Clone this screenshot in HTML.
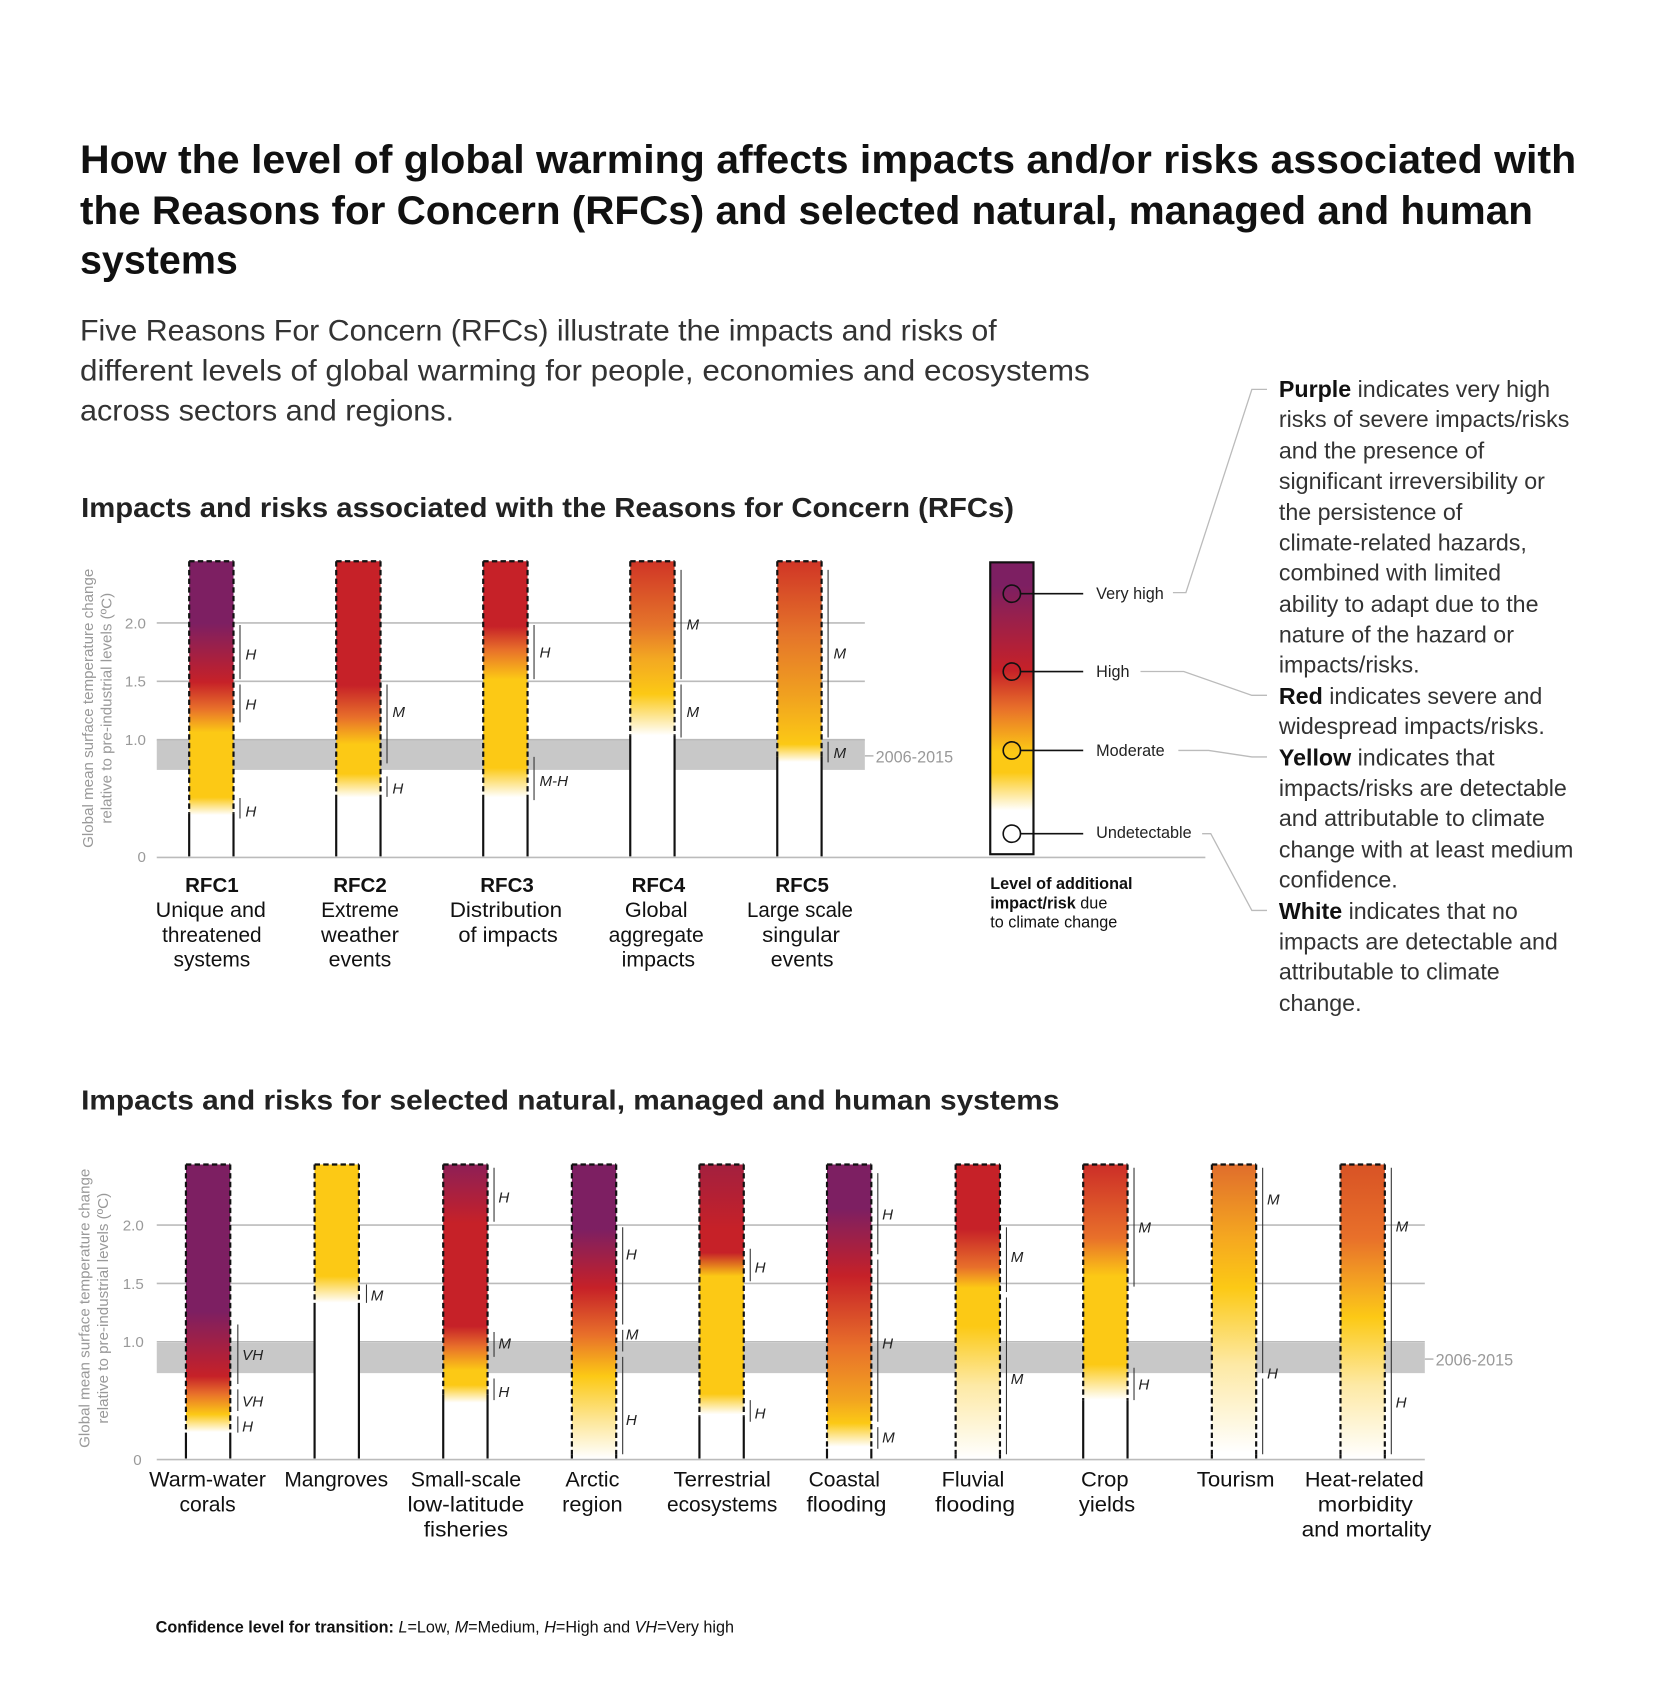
<!DOCTYPE html>
<html><head><meta charset="utf-8"><style>html,body{margin:0;padding:0;background:#fff}svg{display:block}text{font-family:"Liberation Sans",sans-serif}</style></head><body>
<svg width="1654" height="1689" viewBox="0 0 1530 1562" xmlns="http://www.w3.org/2000/svg">
<defs>
<linearGradient id="r1" x1="0" y1="0" x2="0" y2="1"><stop offset="0" stop-color="#7d1f62"/><stop offset=".21" stop-color="#7d1f62"/><stop offset=".41" stop-color="#c62128"/><stop offset=".5" stop-color="#e8702a"/><stop offset=".58" stop-color="#fcc915"/><stop offset=".8" stop-color="#fcc915"/><stop offset=".86" stop-color="#fff"/><stop offset="1" stop-color="#fff"/></linearGradient>
<linearGradient id="r2" x1="0" y1="0" x2="0" y2="1"><stop offset="0" stop-color="#c62128"/><stop offset=".42" stop-color="#c62128"/><stop offset=".53" stop-color="#e8702a"/><stop offset=".62" stop-color="#fcc915"/><stop offset=".72" stop-color="#fcc915"/><stop offset=".8" stop-color="#fff"/><stop offset="1" stop-color="#fff"/></linearGradient>
<linearGradient id="r3" x1="0" y1="0" x2="0" y2="1"><stop offset="0" stop-color="#c62128"/><stop offset=".22" stop-color="#c62128"/><stop offset=".3" stop-color="#e8702a"/><stop offset=".4" stop-color="#fcc915"/><stop offset=".7" stop-color="#fcc915"/><stop offset=".8" stop-color="#fff"/><stop offset="1" stop-color="#fff"/></linearGradient>
<linearGradient id="r4" x1="0" y1="0" x2="0" y2="1"><stop offset="0" stop-color="#d03526"/><stop offset=".22" stop-color="#e5752a"/><stop offset=".33" stop-color="#f3a822"/><stop offset=".45" stop-color="#fcc915"/><stop offset=".53" stop-color="#fde79a"/><stop offset=".59" stop-color="#fff"/><stop offset="1" stop-color="#fff"/></linearGradient>
<linearGradient id="r5" x1="0" y1="0" x2="0" y2="1"><stop offset="0" stop-color="#d03526"/><stop offset=".25" stop-color="#e5752a"/><stop offset=".45" stop-color="#f0a020"/><stop offset=".62" stop-color="#fcc915"/><stop offset=".68" stop-color="#fff"/><stop offset="1" stop-color="#fff"/></linearGradient>
<linearGradient id="lg" x1="0" y1="0" x2="0" y2="1"><stop offset="0" stop-color="#7d1f62"/><stop offset=".08" stop-color="#7d1f62"/><stop offset=".37" stop-color="#c62128"/><stop offset=".5" stop-color="#e8702a"/><stop offset=".65" stop-color="#fcc915"/><stop offset=".72" stop-color="#fcc915"/><stop offset=".85" stop-color="#fff"/><stop offset="1" stop-color="#fff"/></linearGradient>
<linearGradient id="s1" x1="0" y1="0" x2="0" y2="1"><stop offset="0" stop-color="#7d1f62"/><stop offset=".5" stop-color="#7d1f62"/><stop offset=".72" stop-color="#c62128"/><stop offset=".78" stop-color="#e8702a"/><stop offset=".85" stop-color="#fcc915"/><stop offset=".91" stop-color="#fff"/><stop offset="1" stop-color="#fff"/></linearGradient>
<linearGradient id="s2" x1="0" y1="0" x2="0" y2="1"><stop offset="0" stop-color="#fcc915"/><stop offset=".38" stop-color="#fcc915"/><stop offset=".47" stop-color="#fff"/><stop offset="1" stop-color="#fff"/></linearGradient>
<linearGradient id="s3" x1="0" y1="0" x2="0" y2="1"><stop offset="0" stop-color="#8e1f56"/><stop offset=".2" stop-color="#c62128"/><stop offset=".55" stop-color="#c62128"/><stop offset=".62" stop-color="#e8702a"/><stop offset=".7" stop-color="#fcc915"/><stop offset=".75" stop-color="#fcc915"/><stop offset=".81" stop-color="#fff"/><stop offset="1" stop-color="#fff"/></linearGradient>
<linearGradient id="s4" x1="0" y1="0" x2="0" y2="1"><stop offset="0" stop-color="#7d1f62"/><stop offset=".22" stop-color="#7d1f62"/><stop offset=".42" stop-color="#c62128"/><stop offset=".58" stop-color="#e8702a"/><stop offset=".72" stop-color="#fcc915"/><stop offset=".88" stop-color="#fde8a0"/><stop offset="1" stop-color="#fff"/></linearGradient>
<linearGradient id="s5" x1="0" y1="0" x2="0" y2="1"><stop offset="0" stop-color="#a3203f"/><stop offset=".22" stop-color="#c62128"/><stop offset=".3" stop-color="#c62128"/><stop offset=".38" stop-color="#fcc915"/><stop offset=".78" stop-color="#fcc915"/><stop offset=".85" stop-color="#fff"/><stop offset="1" stop-color="#fff"/></linearGradient>
<linearGradient id="s6" x1="0" y1="0" x2="0" y2="1"><stop offset="0" stop-color="#7d1f62"/><stop offset=".15" stop-color="#7d1f62"/><stop offset=".38" stop-color="#c62128"/><stop offset=".62" stop-color="#e8702a"/><stop offset=".8" stop-color="#f2a420"/><stop offset=".88" stop-color="#fcc915"/><stop offset=".96" stop-color="#fff"/><stop offset="1" stop-color="#fff"/></linearGradient>
<linearGradient id="s7" x1="0" y1="0" x2="0" y2="1"><stop offset="0" stop-color="#c62128"/><stop offset=".22" stop-color="#c62128"/><stop offset=".35" stop-color="#e8702a"/><stop offset=".42" stop-color="#fcc915"/><stop offset=".55" stop-color="#fcc915"/><stop offset=".75" stop-color="#fde9a5"/><stop offset="1" stop-color="#fff"/></linearGradient>
<linearGradient id="s8" x1="0" y1="0" x2="0" y2="1"><stop offset="0" stop-color="#cc2e28"/><stop offset=".25" stop-color="#e8702a"/><stop offset=".38" stop-color="#fcc915"/><stop offset=".68" stop-color="#fcc915"/><stop offset=".8" stop-color="#fff"/><stop offset="1" stop-color="#fff"/></linearGradient>
<linearGradient id="s9" x1="0" y1="0" x2="0" y2="1"><stop offset="0" stop-color="#e06d2c"/><stop offset=".25" stop-color="#f5a820"/><stop offset=".42" stop-color="#fcc915"/><stop offset=".68" stop-color="#fde9a5"/><stop offset=".98" stop-color="#fff"/></linearGradient>
<linearGradient id="s10" x1="0" y1="0" x2="0" y2="1"><stop offset="0" stop-color="#d85325"/><stop offset=".25" stop-color="#e8702a"/><stop offset=".45" stop-color="#f7b31f"/><stop offset=".52" stop-color="#fcc915"/><stop offset=".75" stop-color="#fde9a5"/><stop offset="1" stop-color="#fff"/></linearGradient>
</defs>

<!-- Title -->
<g font-weight="bold" font-size="37" fill="#111">
<text x="74" y="160" textLength="1384" lengthAdjust="spacingAndGlyphs">How the level of global warming affects impacts and/or risks associated with</text>
<text x="74" y="207" textLength="1344" lengthAdjust="spacingAndGlyphs">the Reasons for Concern (RFCs) and selected natural, managed and human</text>
<text x="74" y="253" textLength="146" lengthAdjust="spacingAndGlyphs">systems</text>
</g>
<g font-size="27" fill="#333">
<text x="74" y="315" textLength="848" lengthAdjust="spacingAndGlyphs">Five Reasons For Concern (RFCs) illustrate the impacts and risks of</text>
<text x="74" y="352" textLength="934" lengthAdjust="spacingAndGlyphs">different levels of global warming for people, economies and ecosystems</text>
<text x="74" y="389" textLength="346" lengthAdjust="spacingAndGlyphs">across sectors and regions.</text>
</g>
<text x="75" y="478" font-size="26" font-weight="bold" fill="#222" textLength="863" lengthAdjust="spacingAndGlyphs">Impacts and risks associated with the Reasons for Concern (RFCs)</text>
<text x="75" y="1026" font-size="26" font-weight="bold" fill="#222" textLength="905" lengthAdjust="spacingAndGlyphs">Impacts and risks for selected natural, managed and human systems</text>

<!-- Chart 1 axes -->
<rect x="145" y="684" width="655" height="28" fill="#c8c8c8"/>
<g stroke="#bbb" stroke-width="1.5">
<line x1="145" y1="576" x2="800" y2="576"/><line x1="145" y1="630" x2="800" y2="630"/><line x1="145" y1="684" x2="800" y2="684"/><line x1="145" y1="793" x2="1115" y2="793"/>
<line x1="800" y1="699" x2="808" y2="699"/>
</g>
<g fill="#999" font-size="14" text-anchor="end">
<text x="135" y="581">2.0</text><text x="135" y="635">1.5</text><text x="135" y="689">1.0</text><text x="135" y="797">0</text>
</g>
<text x="810" y="705" fill="#999" font-size="15">2006-2015</text>
<g fill="#999" font-size="14" text-anchor="middle">
<text transform="translate(86,655) rotate(-90)">Global mean surface temperature change</text>
<text transform="translate(103,655) rotate(-90)">relative to pre-industrial levels (ºC)</text>
</g>

<!-- RFC bars -->
<g stroke="#111" stroke-width="2">
<rect x="175" y="519" width="41" height="273" fill="url(#r1)" stroke="none"/>
<rect x="311" y="519" width="41" height="273" fill="url(#r2)" stroke="none"/>
<rect x="447" y="519" width="41" height="273" fill="url(#r3)" stroke="none"/>
<rect x="583" y="519" width="41" height="273" fill="url(#r4)" stroke="none"/>
<rect x="719" y="519" width="41" height="273" fill="url(#r5)" stroke="none"/>
<g stroke-dasharray="5,3">
<path d="M175,519H216M175,519V752M216,519V752"/>
<path d="M311,519H352M311,519V735M352,519V735"/>
<path d="M447,519H488M447,519V735M488,519V735"/>
<path d="M583,519H624M583,519V680M624,519V680"/>
<path d="M719,519H760M719,519V700M760,519V700"/>
</g>
<path d="M175,752V792M216,752V792M311,735V792M352,735V792M447,735V792M488,735V792M583,680V792M624,680V792M719,700V792M760,700V792"/>
</g>
<!-- confidence chart1 -->
<g stroke="#333" stroke-width="1">
<path d="M222,578V628M222,633V668M222,738V757M358,633V706M358,718V737M494,578V628M494,700V740M630,527V628M630,633V682M766,527V682M766,686V705"/>
</g>
<g font-size="14" font-style="italic" fill="#222">
<text x="227" y="610">H</text><text x="227" y="656">H</text><text x="227" y="755">H</text>
<text x="363" y="663">M</text><text x="363" y="734">H</text>
<text x="499" y="608">H</text><text x="499" y="727">M-H</text>
<text x="635" y="582">M</text><text x="635" y="663">M</text>
<text x="771" y="609">M</text><text x="771" y="701">M</text>
</g>
<g text-anchor="middle" fill="#111">
<g font-size="19" font-weight="bold"><text x="196" y="825">RFC1</text><text x="333" y="825">RFC2</text><text x="469" y="825">RFC3</text><text x="609" y="825">RFC4</text><text x="742" y="825">RFC5</text></g>
<g font-size="20">
<text x="195" y="848" textLength="102" lengthAdjust="spacingAndGlyphs">Unique and</text><text x="196" y="871" textLength="92" lengthAdjust="spacingAndGlyphs">threatened</text><text x="196" y="894" textLength="71" lengthAdjust="spacingAndGlyphs">systems</text>
<text x="333" y="848" textLength="72" lengthAdjust="spacingAndGlyphs">Extreme</text><text x="333" y="871" textLength="72" lengthAdjust="spacingAndGlyphs">weather</text><text x="333" y="894" textLength="58" lengthAdjust="spacingAndGlyphs">events</text>
<text x="468" y="848" textLength="104" lengthAdjust="spacingAndGlyphs">Distribution</text><text x="470" y="871" textLength="92" lengthAdjust="spacingAndGlyphs">of impacts</text>
<text x="607" y="848" textLength="58" lengthAdjust="spacingAndGlyphs">Global</text><text x="607" y="871" textLength="88" lengthAdjust="spacingAndGlyphs">aggregate</text><text x="609" y="894" textLength="68" lengthAdjust="spacingAndGlyphs">impacts</text>
<text x="740" y="848" textLength="98" lengthAdjust="spacingAndGlyphs">Large scale</text><text x="741" y="871" textLength="72" lengthAdjust="spacingAndGlyphs">singular</text><text x="742" y="894" textLength="58" lengthAdjust="spacingAndGlyphs">events</text>
</g></g>

<!-- Legend -->
<rect x="916" y="520" width="40" height="270" fill="url(#lg)" stroke="#111" stroke-width="2"/>
<g stroke="#111" stroke-width="1.5" fill="none">
<circle cx="936" cy="549" r="8"/><circle cx="936" cy="621" r="8"/><circle cx="936" cy="694" r="8"/><circle cx="936" cy="771" r="8"/>
<path d="M944,549H1002M944,621H1002M944,694H1002M944,771H1002"/>
</g>
<g font-size="15" fill="#222">
<text x="1014" y="554">Very high</text><text x="1014" y="626">High</text><text x="1014" y="699">Moderate</text><text x="1014" y="775">Undetectable</text>
</g>
<g stroke="#bbb" stroke-width="1.2" fill="none">
<path d="M1085,548H1097L1158,360H1172"/>
<path d="M1055,621H1095L1158,643H1172"/>
<path d="M1090,694H1118L1158,700H1172"/>
<path d="M1112,771H1120L1158,842H1172"/>
</g>
<g font-size="15" fill="#111">
<text x="916" y="822" font-weight="bold">Level of additional</text>
<text x="916" y="840" font-weight="bold">impact/risk <tspan font-weight="normal">due</tspan></text>
<text x="916" y="858">to climate change</text>
</g>
<g font-size="21.5" fill="#333">
<text x="1183" y="367"><tspan font-weight="bold" fill="#111">Purple</tspan> indicates very high</text>
<text x="1183" y="395">risks of severe impacts/risks</text>
<text x="1183" y="424">and the presence of</text>
<text x="1183" y="452">significant irreversibility or</text>
<text x="1183" y="481">the persistence of</text>
<text x="1183" y="509">climate-related hazards,</text>
<text x="1183" y="537">combined with limited</text>
<text x="1183" y="566">ability to adapt due to the</text>
<text x="1183" y="594">nature of the hazard or</text>
<text x="1183" y="622">impacts/risks.</text>
<text x="1183" y="651"><tspan font-weight="bold" fill="#111">Red</tspan> indicates severe and</text>
<text x="1183" y="679">widespread impacts/risks.</text>
<text x="1183" y="708"><tspan font-weight="bold" fill="#111">Yellow</tspan> indicates that</text>
<text x="1183" y="736">impacts/risks are detectable</text>
<text x="1183" y="764">and attributable to climate</text>
<text x="1183" y="793">change with at least medium</text>
<text x="1183" y="821">confidence.</text>
<text x="1183" y="850"><tspan font-weight="bold" fill="#111">White</tspan> indicates that no</text>
<text x="1183" y="878">impacts are detectable and</text>
<text x="1183" y="906">attributable to climate</text>
<text x="1183" y="935">change.</text>
</g>

<!-- Chart 2 axes -->
<rect x="145" y="1242" width="1173" height="28" fill="#c8c8c8"/>
<g stroke="#bbb" stroke-width="1.5">
<line x1="145" y1="1133" x2="1318" y2="1133"/><line x1="145" y1="1187" x2="1318" y2="1187"/><line x1="145" y1="1241" x2="1318" y2="1241"/><line x1="145" y1="1350" x2="1318" y2="1350"/>
<line x1="1318" y1="1257" x2="1326" y2="1257"/>
</g>
<g fill="#999" font-size="14" text-anchor="end">
<text x="133" y="1138">2.0</text><text x="133" y="1192">1.5</text><text x="133" y="1246">1.0</text><text x="131" y="1355">0</text>
</g>
<text x="1328" y="1263" fill="#999" font-size="15">2006-2015</text>
<g fill="#999" font-size="14" text-anchor="middle">
<text transform="translate(83,1210) rotate(-90)">Global mean surface temperature change</text>
<text transform="translate(100,1210) rotate(-90)">relative to pre-industrial levels (ºC)</text>
</g>
<g>
<rect x="172" y="1077" width="41" height="272" fill="url(#s1)"/>
<rect x="291" y="1077" width="41" height="272" fill="url(#s2)"/>
<rect x="410" y="1077" width="41" height="272" fill="url(#s3)"/>
<rect x="529" y="1077" width="41" height="272" fill="url(#s4)"/>
<rect x="647" y="1077" width="41" height="272" fill="url(#s5)"/>
<rect x="765" y="1077" width="41" height="272" fill="url(#s6)"/>
<rect x="884" y="1077" width="41" height="272" fill="url(#s7)"/>
<rect x="1002" y="1077" width="41" height="272" fill="url(#s8)"/>
<rect x="1121" y="1077" width="41" height="272" fill="url(#s9)"/>
<rect x="1240" y="1077" width="41" height="272" fill="url(#s10)"/>
</g>
<g stroke="#111" stroke-width="2">
<g stroke-dasharray="5,3">
<path d="M172,1077H213M172,1077V1325M213,1077V1325"/>
<path d="M291,1077H332M291,1077V1205M332,1077V1205"/>
<path d="M410,1077H451M410,1077V1290M451,1077V1290"/>
<path d="M529,1077H570M529,1077V1345M570,1077V1345"/>
<path d="M647,1077H688M647,1077V1310M688,1077V1310"/>
<path d="M765,1077H806M765,1077V1340M806,1077V1340"/>
<path d="M884,1077H925M884,1077V1345M925,1077V1345"/>
<path d="M1002,1077H1043M1002,1077V1295M1043,1077V1295"/>
<path d="M1121,1077H1162M1121,1077V1345M1162,1077V1345"/>
<path d="M1240,1077H1281M1240,1077V1345M1281,1077V1345"/>
</g>
<path d="M172,1325V1349M213,1325V1349M291,1205V1349M332,1205V1349M410,1290V1349M451,1290V1349M647,1310V1349M688,1310V1349M1002,1295V1349M1043,1295V1349M529,1345V1349M570,1345V1349M765,1340V1349M806,1340V1349M884,1345V1349M925,1345V1349M1121,1345V1349M1162,1345V1349M1240,1345V1349M1281,1345V1349"/>
</g>
<g stroke="#333" stroke-width="1">
<path d="M220,1225V1280M220,1285V1305M220,1310V1325M339,1188V1205M457,1080V1130M457,1232V1255M457,1275V1295M576,1135V1225M576,1230V1250M576,1255V1345M694,1155V1185M694,1295V1315M812,1085V1160M812,1165V1315M812,1320V1340M931,1135V1195M931,1200V1345M1049,1080V1190M1049,1265V1295M1168,1080V1270M1168,1275V1345M1287,1080V1345"/>
</g>
<g font-size="14" font-style="italic" fill="#222">
<text x="224" y="1258">VH</text><text x="224" y="1301">VH</text><text x="224" y="1324">H</text>
<text x="343" y="1203">M</text>
<text x="461" y="1112">H</text><text x="461" y="1247">M</text><text x="461" y="1292">H</text>
<text x="579" y="1165">H</text><text x="579" y="1239">M</text><text x="579" y="1318">H</text>
<text x="698" y="1177">H</text><text x="698" y="1312">H</text>
<text x="816" y="1128">H</text><text x="816" y="1247">H</text><text x="816" y="1334">M</text>
<text x="935" y="1167">M</text><text x="935" y="1280">M</text>
<text x="1053" y="1140">M</text><text x="1053" y="1285">H</text>
<text x="1172" y="1114">M</text><text x="1172" y="1275">H</text>
<text x="1291" y="1139">M</text><text x="1291" y="1302">H</text>
</g>
<g font-size="20" fill="#111" text-anchor="middle">
<text x="192" y="1375" textLength="108" lengthAdjust="spacingAndGlyphs">Warm-water</text><text x="192" y="1398" textLength="52" lengthAdjust="spacingAndGlyphs">corals</text>
<text x="311" y="1375" textLength="96" lengthAdjust="spacingAndGlyphs">Mangroves</text>
<text x="431" y="1375" textLength="102" lengthAdjust="spacingAndGlyphs">Small-scale</text><text x="431" y="1398" textLength="108" lengthAdjust="spacingAndGlyphs">low-latitude</text><text x="431" y="1421" textLength="78" lengthAdjust="spacingAndGlyphs">fisheries</text>
<text x="548" y="1375" textLength="50" lengthAdjust="spacingAndGlyphs">Arctic</text><text x="548" y="1398" textLength="56" lengthAdjust="spacingAndGlyphs">region</text>
<text x="668" y="1375" textLength="90" lengthAdjust="spacingAndGlyphs">Terrestrial</text><text x="668" y="1398" textLength="102" lengthAdjust="spacingAndGlyphs">ecosystems</text>
<text x="781" y="1375" textLength="66" lengthAdjust="spacingAndGlyphs">Coastal</text><text x="783" y="1398" textLength="74" lengthAdjust="spacingAndGlyphs">flooding</text>
<text x="900" y="1375" textLength="58" lengthAdjust="spacingAndGlyphs">Fluvial</text><text x="902" y="1398" textLength="74" lengthAdjust="spacingAndGlyphs">flooding</text>
<text x="1022" y="1375" textLength="44" lengthAdjust="spacingAndGlyphs">Crop</text><text x="1024" y="1398" textLength="52" lengthAdjust="spacingAndGlyphs">yields</text>
<text x="1143" y="1375" textLength="72" lengthAdjust="spacingAndGlyphs">Tourism</text>
<text x="1262" y="1375" textLength="110" lengthAdjust="spacingAndGlyphs">Heat-related</text><text x="1263" y="1398" textLength="88" lengthAdjust="spacingAndGlyphs">morbidity</text><text x="1264" y="1421" textLength="120" lengthAdjust="spacingAndGlyphs">and mortality</text>
</g>
<text x="144" y="1510" font-size="15" fill="#111" textLength="535" lengthAdjust="spacingAndGlyphs"><tspan font-weight="bold">Confidence level  for transition: </tspan><tspan font-style="italic">L</tspan>=Low, <tspan font-style="italic">M</tspan>=Medium, <tspan font-style="italic">H</tspan>=High and <tspan font-style="italic">VH</tspan>=Very high</text>
</svg>
</body></html>
